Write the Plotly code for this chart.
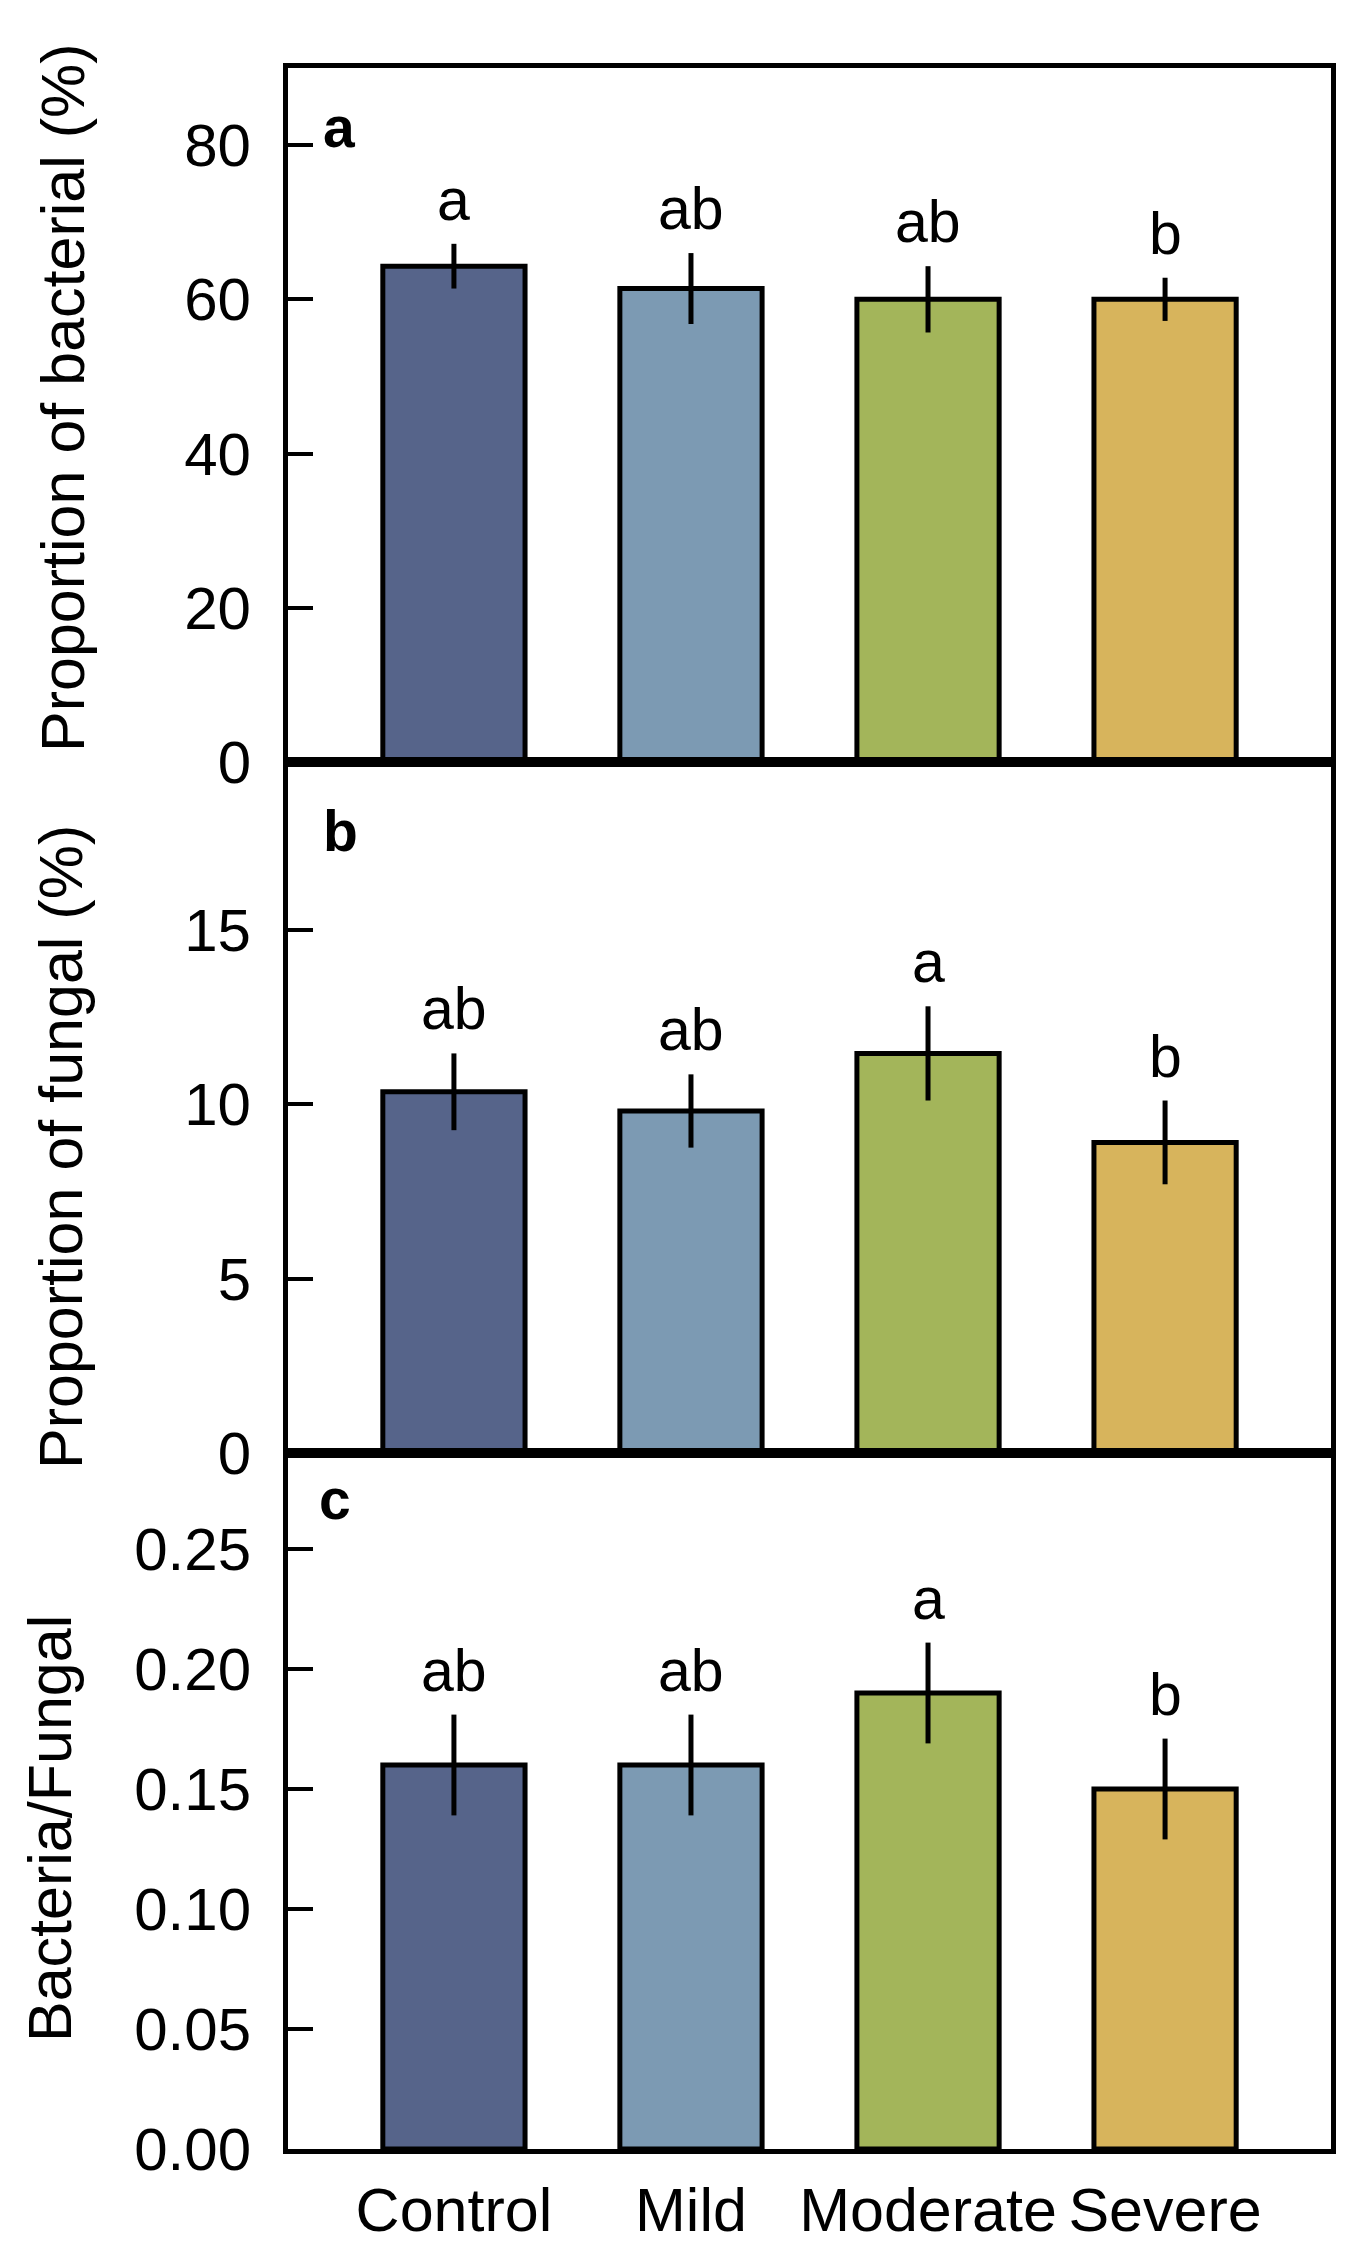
import plotly.graph_objects as go
from plotly.subplots import make_subplots

# datos
categories = ["Control", "Mild", "Moderate", "Severe"]
bar_colors = ["#56648a", "#7c9ab3", "#a3b55a", "#d7b45c"]

bacterial = [64.3, 61.4, 60.0, 60.0]
bacterial_err = [2.9, 4.6, 4.3, 2.8]
bacterial_letters = ["a", "ab", "ab", "b"]

fungal = [10.35, 9.8, 11.45, 8.9]
fungal_err = [1.1, 1.05, 1.35, 1.2]
fungal_letters = ["ab", "ab", "a", "b"]

ratio = [0.16, 0.16, 0.19, 0.15]
ratio_err = [0.021, 0.021, 0.021, 0.021]
ratio_letters = ["ab", "ab", "a", "b"]

panels = [
    ("a", "Proportion of bacterial (%)", bacterial, bacterial_err, bacterial_letters,
     [0, 90], [0, 20, 40, 60, 80], None),
    ("b", "Proportion of fungal (%)", fungal, fungal_err, fungal_letters,
     [0, 19.8], [0, 5, 10, 15], None),
    ("c", "Bacteria/Fungal", ratio, ratio_err, ratio_letters,
     [0, 0.29], [0, 0.05, 0.10, 0.15, 0.20, 0.25], ".2f"),
]

FONT = "Liberation Sans, Arial, sans-serif"

# pequeño desplazamiento de la pagina
OFF = 5
W, H = 1349 - OFF, 2260 - OFF
L, R, T, B = 285 - OFF, 21, 65 - OFF, 2260 - 2146
plot_h = 2146 - 65
plot_w = 1328 - 285

def py(p):
    # pixel y de la pagina -> paper
    return (2146 - p) / plot_h

def px(p):
    return (p - 285) / plot_w

# limites de cada panel en pixeles
edges = [65, 759, 1450, 2146]

fig = make_subplots(rows=3, cols=1, vertical_spacing=0)

annotations = []
title_pos = [(60, 395), (58, 1144), (47, 1826)]
panel_letter_pos = [(336, 124), (337, 828), (332, 1496)]

for i, (tag, ytitle, vals, errs, letters, yrange, ticks, fmt) in enumerate(panels):
    row = i + 1
    fig.add_trace(go.Bar(
        x=categories,
        y=vals,
        width=0.6,
        marker=dict(color=bar_colors, line=dict(color="black", width=5)),
        error_y=dict(type="data", array=errs, width=0, thickness=5, color="black"),
        showlegend=False,
    ), row=row, col=1)

    yname = "yaxis" if i == 0 else f"yaxis{i + 1}"
    xname = "xaxis" if i == 0 else f"xaxis{i + 1}"
    dom = [py(edges[i + 1]), py(edges[i])]
    fig.layout[yname].update(
        domain=dom,
        range=yrange,
        tickvals=ticks,
        tickformat=fmt,
        ticks="inside",
        ticklen=25,
        tickwidth=4,
        tickcolor="black",
        showline=True,
        linewidth=5,
        linecolor="black",
        mirror=True,
        showgrid=False,
        zeroline=False,
        automargin=False,
        tickfont=dict(family=FONT, size=60, color="black"),
        ticklabelstandoff=20,
    )
    fig.layout[xname].update(
        range=[-0.7, 3.7],
        showline=True,
        linewidth=5,
        linecolor="black",
        mirror=True,
        showgrid=False,
        ticks="",
        automargin=False,
        showticklabels=(i == 2),
        tickfont=dict(family=FONT, size=61, color="black"),
        ticklabelstandoff=4,
    )

    xref = "x" if i == 0 else f"x{i + 1}"
    yref = "y" if i == 0 else f"y{i + 1}"
    # letras de significancia
    for c, v, e, lt in zip(categories, vals, errs, letters):
        annotations.append(dict(
            x=c, y=v + e, xref=xref, yref=yref, text=lt, showarrow=False,
            yanchor="bottom", yshift=9,
            font=dict(family=FONT, size=59, color="black"),
        ))

    # titulo del eje y
    tx, ty = title_pos[i]
    annotations.append(dict(
        x=px(tx), y=py(ty), xref="paper", yref="paper", text=ytitle,
        textangle=-90, showarrow=False, xanchor="center", yanchor="middle",
        font=dict(family=FONT, size=61, color="black"),
    ))

    # letra del panel
    lx, ly = panel_letter_pos[i]
    annotations.append(dict(
        x=px(lx), y=py(ly), xref="paper", yref="paper", text=f"<b>{tag}</b>",
        showarrow=False, xanchor="center", yanchor="middle",
        font=dict(family=FONT, size=57, color="black"),
    ))

fig.update_layout(
    width=W,
    height=H,
    margin=dict(l=L, r=R, t=T, b=B),
    plot_bgcolor="white",
    paper_bgcolor="white",
    annotations=annotations,
    bargap=0.4,
)

fig.write_html("out.html")
